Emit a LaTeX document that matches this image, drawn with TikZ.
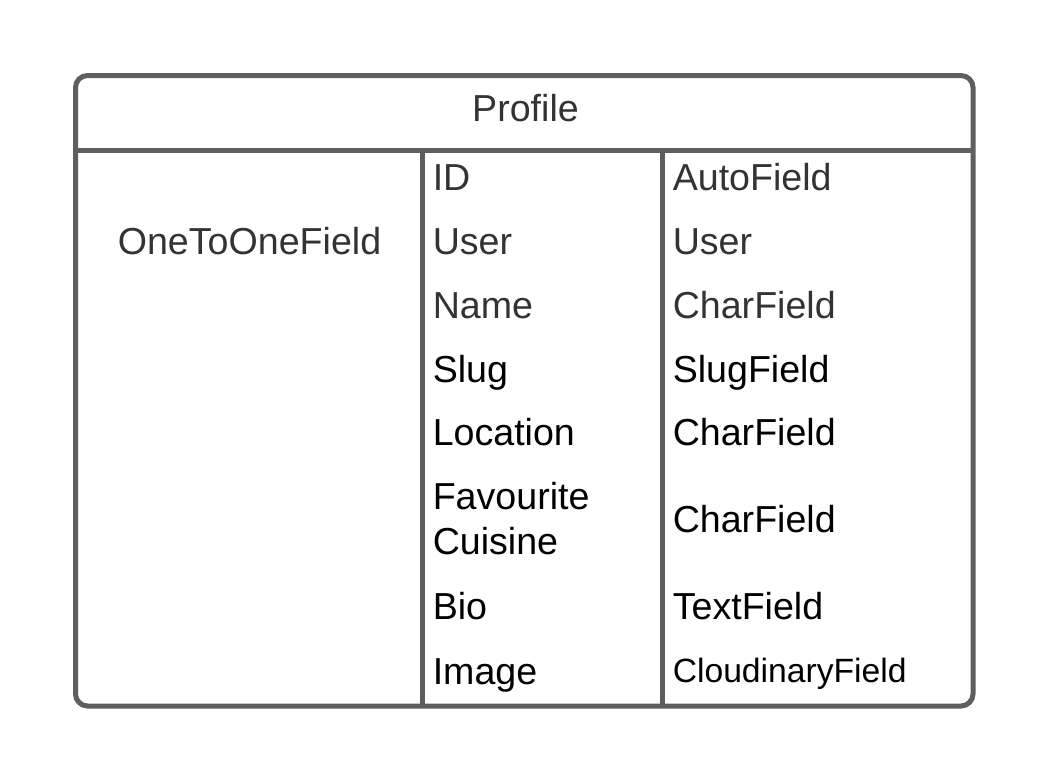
\documentclass[tikz,border=0pt]{standalone}
\usepackage{fontspec}
\setmainfont{Liberation Sans}
\definecolor{frame}{HTML}{5E5E5E}
\definecolor{dgray}{HTML}{333333}
\tikzset{
  cell/.style={anchor=base west, inner sep=0pt, font=\fontsize{28.2}{33}\selectfont},
  dcell/.style={cell, text=dgray},
  bcell/.style={cell, text=black},
  border/.style={draw=frame, line width=3.75pt},
}
\begin{document}
\begin{tikzpicture}[x=0.75pt,y=-0.75pt]
\useasboundingbox (0,0) rectangle (1050,782);
\draw[border, rounded corners=9pt] (75.5,75.5) rectangle (973,706);
\draw[border] (75.5,150.5) -- (973,150.5);
\draw[border] (422.5,150.5) -- (422.5,706);
\draw[border] (662.5,150.5) -- (662.5,706);
\node[dcell, anchor=base] (title) at (525.5,121) {Profile};
\node[dcell, anchor=base] (rel) at (249.5,254) {OneToOneField};
\node[dcell] (n1) at (432.5,190) {ID};
\node[dcell] (n2) at (432.5,254) {User};
\node[dcell] (n3) at (432.5,318) {Name};
\node[bcell] (n4) at (432.5,382) {Slug};
\node[bcell] (n5) at (432.5,445) {Location};
\node[bcell] (n6a) at (432.5,509) {Favourite};
\node[bcell] (n6b) at (432.5,554) {Cuisine};
\node[bcell] (n7) at (432.5,619) {Bio};
\node[bcell] (n8) at (432.5,684) {Image};
\node[dcell] (t1) at (672.5,190) {AutoField};
\node[dcell] (t2) at (672.5,254) {User};
\node[dcell] (t3) at (672.5,318) {CharField};
\node[bcell] (t4) at (672.5,382) {SlugField};
\node[bcell] (t5) at (672.5,445) {CharField};
\node[bcell] (t6) at (672.5,532) {CharField};
\node[bcell] (t7) at (672.5,619) {TextField};
\node[bcell, font=\fontsize{25.25}{30}\selectfont] (t8) at (672.5,682) {CloudinaryField};
\end{tikzpicture}
\end{document}
